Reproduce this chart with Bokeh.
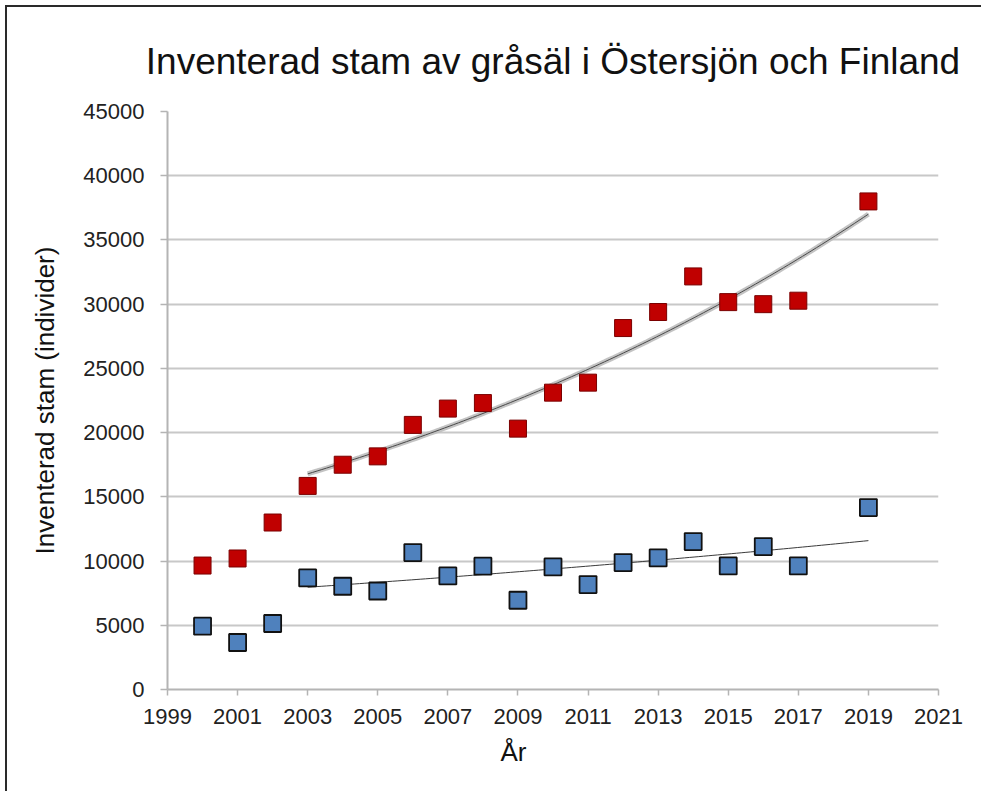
import numpy as np
from bokeh.plotting import figure
from bokeh.models import FixedTicker, Title, ColumnDataSource
from bokeh.embed import file_html
from bokeh.resources import INLINE

# --- data ---
years = [2000, 2001, 2002, 2003, 2004, 2005, 2006, 2007, 2008, 2009,
         2010, 2011, 2012, 2013, 2014, 2015, 2016, 2017, 2019]
ostersjon = [9650, 10200, 13000, 15850, 17500, 18150, 20600, 21870, 22300, 20310,
             23110, 23890, 28140, 29390, 32160, 30160, 30000, 30270, 38000]
finland = [4930, 3660, 5140, 8690, 8040, 7670, 10660, 8840, 9600, 6950,
           9540, 8170, 9880, 10240, 11520, 9620, 11130, 9620, 14160]
trend_start_year = 2003
x_ticks = [1999, 2001, 2003, 2005, 2007, 2009, 2011, 2013, 2015, 2017, 2019, 2021]
y_ticks = [0, 5000, 10000, 15000, 20000, 25000, 30000, 35000, 40000, 45000]

FONT = "Liberation Sans"

# exponential trend lines (as in a spreadsheet) over 2003-2019
yrs = np.array(years, dtype=float)
mask = yrs >= trend_start_year
xt = np.linspace(trend_start_year, yrs.max(), 120)


def exp_trend(vals):
    v = np.array(vals, dtype=float)
    b, a = np.polyfit(yrs[mask], np.log(v[mask]), 1)
    return np.exp(a + b * xt)


red_trend = exp_trend(ostersjon)
blue_trend = exp_trend(finland)

p = figure(width=976, height=786, output_backend="svg", toolbar_location=None,
           x_range=(1999, 2021), y_range=(0, 45000),
           min_border_left=160, min_border_right=45,
           min_border_top=104, min_border_bottom=104)

p.title.text = "Inventerad stam av gråsäl i Östersjön och Finland"
p.title.text_font = FONT
p.title.text_font_size = "37px"
p.title.text_font_style = "normal"
p.title.text_color = "#111111"
p.title.align = "center"
p.title.standoff = 60

p.outline_line_color = None
p.background_fill_color = "white"
p.border_fill_color = "white"

# grids
p.xgrid.grid_line_color = None
p.ygrid.grid_line_color = "#c8c8c8"
p.ygrid.grid_line_width = 2

# axes
for ax in (p.xaxis[0], p.yaxis[0]):
    ax.axis_line_color = "#b4b4b4"
    ax.axis_line_width = 2
    ax.major_tick_line_color = "#b4b4b4"
    ax.major_tick_line_width = 1.5
    ax.major_tick_in = 0
    ax.minor_tick_line_color = None
    ax.major_label_text_font = FONT
    ax.major_label_text_font_size = "22px"
    ax.major_label_text_color = "#222222"

p.xaxis[0].ticker = FixedTicker(ticks=x_ticks)
p.xaxis[0].major_tick_out = 6
p.xaxis[0].major_label_standoff = 13

p.yaxis[0].ticker = FixedTicker(ticks=y_ticks)
p.yaxis[0].major_tick_out = 7
p.yaxis[0].major_label_standoff = 16
p.yaxis[0].axis_label = "Inventerad stam (individer)"
p.yaxis[0].axis_label_text_font = FONT
p.yaxis[0].axis_label_text_font_size = "26px"
p.yaxis[0].axis_label_text_font_style = "normal"
p.yaxis[0].axis_label_text_color = "#111111"
p.yaxis[0].axis_label_standoff = 20

xlabel = Title(text="År", align="left", offset=333, text_font=FONT,
               text_font_size="26px", text_font_style="normal",
               text_color="#111111", standoff=16)
p.add_layout(xlabel, "below")

# trend lines
p.line(xt, red_trend, line_color="#bdbdbd", line_width=5, line_alpha=0.9)
p.line(xt, red_trend, line_color="#4a4a4a", line_width=1)
p.line(xt, blue_trend, line_color="#3a3a3a", line_width=1)

# points
src = ColumnDataSource(dict(year=years, ost=ostersjon, fin=finland))
p.scatter("year", "ost", source=src, marker="square", size=17,
          fill_color="#C00000", line_color="#7a0000", line_width=1)
p.scatter("year", "fin", source=src, marker="square", size=17,
          fill_color="#4F81BD", line_color="#111111", line_width=1.8)

p.styles = {"margin-top": "5px", "margin-left": "5px",
            "border-top": "2px solid #2a2a2a", "border-left": "2px solid #2a2a2a"}

open("out.html", "w").write(file_html(p, INLINE))
